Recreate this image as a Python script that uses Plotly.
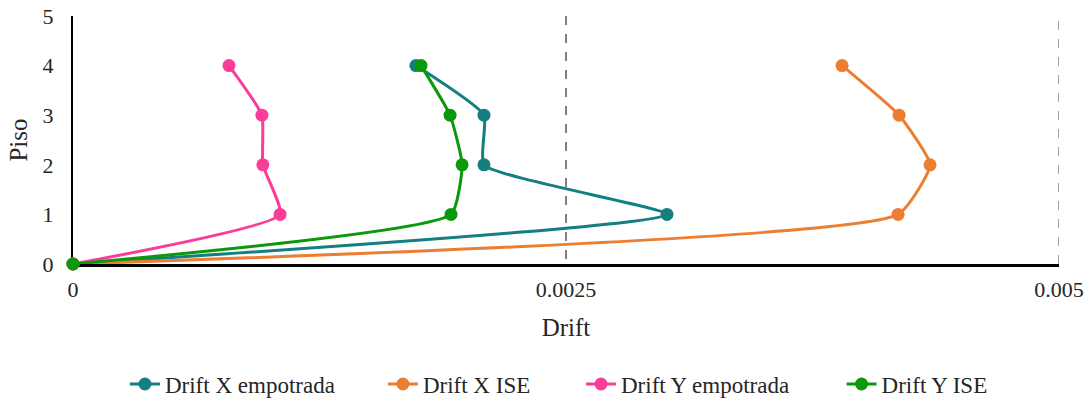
import plotly.graph_objects as go

# Story level (floor) and drift values per series
pisos = [0, 1, 2, 3, 4]
drift_x_empotrada = [0, 0.003012, 0.002084, 0.002084, 0.001739]
drift_x_ise = [0, 0.004184, 0.004346, 0.004189, 0.003900]
drift_y_empotrada = [0, 0.001050, 0.000963, 0.000958, 0.000791]
drift_y_ise = [0, 0.001917, 0.001973, 0.001912, 0.001765]

drift_ticks = [0, 0.0025, 0.005]
drift_tick_labels = ["0", "0.0025", "0.005"]
piso_ticks = [0, 1, 2, 3, 4, 5]

series_names = ["Drift X empotrada", "Drift X ISE", "Drift Y empotrada", "Drift Y ISE"]
series_values = [drift_x_empotrada, drift_x_ise, drift_y_empotrada, drift_y_ise]
series_colors = ["#137F80", "#ED7D31", "#FA3D98", "#0A990A"]

# one single-entry legend per series so each entry sits at its own spot
legend_ids = ["legend", "legend2", "legend3", "legend4"]
legend_x = [0.0527, 0.3143, 0.5152, 0.7795]

font_family = "Liberation Serif"

fig = go.Figure()
for name, values, color, lid in zip(series_names, series_values, series_colors, legend_ids):
    fig.add_trace(go.Scatter(
        x=values, y=pisos, name=name, mode="lines+markers", legend=lid,
        line=dict(color=color, width=3, shape="spline", smoothing=0.45),
        marker=dict(color=color, size=13),
        cliponaxis=False,
    ))

# dashed grid line on the last drift tick, which sits on the plot edge
fig.add_shape(type="line", xref="x", yref="paper", x0=drift_ticks[-1], x1=drift_ticks[-1],
              y0=0, y1=1, layer="below", line=dict(color="#808080", width=1.5, dash="dash"))

legends = {
    lid: dict(orientation="h", x=lx, xanchor="left", y=-0.484, yanchor="middle",
              font=dict(family=font_family, size=23, color="#262626"),
              bgcolor="rgba(0,0,0,0)")
    for lid, lx in zip(legend_ids, legend_x)
}

fig.update_layout(
    width=1089, height=406,
    margin=dict(l=73, r=30, t=16, b=142, autoexpand=False),
    paper_bgcolor="white", plot_bgcolor="white",
    font=dict(family=font_family, size=22, color="#262626"),
    showlegend=True,
    **legends,
    xaxis=dict(
        range=[drift_ticks[0], drift_ticks[-1]], tickvals=drift_ticks, ticktext=drift_tick_labels,
        showgrid=True, gridcolor="#808080", griddash="dash", gridwidth=1.5,
        showline=True, linecolor="black", linewidth=2.5, zeroline=False,
        ticks="", ticklen=0, ticklabelstandoff=4, automargin=False, layer="below traces",
        tickfont=dict(family=font_family, size=22),
        title=dict(text="Drift", font=dict(family=font_family, size=25), standoff=18),
    ),
    yaxis=dict(
        range=[piso_ticks[0], piso_ticks[-1]], tickvals=piso_ticks,
        showgrid=False, showline=True, linecolor="black", linewidth=2, zeroline=False,
        ticks="", ticklen=0, ticklabelstandoff=13, automargin=False, layer="below traces",
        tickfont=dict(family=font_family, size=22),
        title=dict(text="Piso", font=dict(family=font_family, size=25), standoff=8),
    ),
)

fig.write_html("out.html")
